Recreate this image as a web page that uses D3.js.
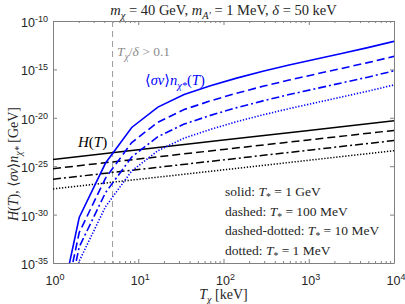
<!DOCTYPE html>
<html>
<head>
<meta charset="utf-8">
<script src="https://cdn.jsdelivr.net/npm/d3@7"></script>
<style>
body { margin: 0; background: #fff; }
</style>
</head>
<body>
<div id="chart"></div>
<script>
// temperatures (keV) where the curves were sampled
var temps = [1, 2.03, 4.12, 8.38, 17.0, 34.5, 70.2, 142.5, 289.6, 588, 1194, 2427, 4924, 10000];

// <sigma v> n_chi* (GeV), one array per T_*
var rateSolid = [1e-43, 5.0e-31, 2.0e-25, 1.0e-21, 1.26e-19, 2.51e-18, 2.0e-17, 1.26e-16, 6.3e-16, 2.82e-15, 1.12e-14, 4.47e-14, 1.78e-13, 7.94e-13];
var rateDashed = [2.5e-45, 1.41e-32, 5.6e-27, 2.8e-23, 3.5e-21, 7.1e-20, 5.6e-19, 3.5e-18, 1.78e-17, 7.9e-17, 3.2e-16, 1.26e-15, 5.0e-15, 2.24e-14];
var rateDashDot = [7.9e-47, 4.5e-34, 1.78e-28, 8.9e-25, 1.12e-22, 2.24e-21, 1.78e-20, 1.12e-19, 5.6e-19, 2.5e-18, 1.0e-17, 4.0e-17, 1.58e-16, 7.1e-16];
var rateDotted = [3.2e-48, 1.58e-35, 6.3e-30, 3.2e-26, 4.0e-24, 7.9e-23, 6.3e-22, 4.0e-21, 2.0e-20, 8.9e-20, 3.5e-19, 1.41e-18, 5.6e-18, 2.5e-17];

// Hubble rate H(T) (GeV)
var hubbleTemps = [1, 10, 100, 1000, 10000];
var hubbleSolid = [5.0e-25, 5.0e-24, 5.0e-23, 5.0e-22, 5.0e-21];
var hubbleDashed = [5.6e-26, 5.5e-25, 5.4e-24, 5.2e-23, 5.0e-22];
var hubbleDashDot = [4.5e-27, 4.5e-26, 4.5e-25, 4.5e-24, 4.5e-23];
var hubbleDotted = [4.5e-28, 4.4e-27, 4.2e-26, 4.1e-25, 4.0e-24];

var cutTemp = 5; // T_chi / delta = 0.1

var xTicks = [1, 10, 100, 1000, 10000];
var xTickExp = ['0', '1', '2', '3', '4'];
var yTicks = [1e-35, 1e-30, 1e-25, 1e-20, 1e-15, 1e-10];
var yTickExp = ['-35', '-30', '-25', '-20', '-15', '-10'];

var legendLines = [
	['solid: ', '1 GeV'],
	['dashed: ', '100 MeV'],
	['dashed-dotted: ', '10 MeV'],
	['dotted: ', '1 MeV']
];

var margins = {top: 21, right: 11, bottom: 41, left: 53};
var W = 405, H = 304;
var width = W - margins.left - margins.right;
var height = H - margins.top - margins.bottom;

var serif = '"Liberation Serif", "DejaVu Serif", serif';
var sans = '"Liberation Sans", Arial, sans-serif';

var xscale = d3.scaleLog().domain([1, 10000]).range([0, width]);
var yscale = d3.scaleLog().domain([1e-35, 1e-10]).range([height, 0]);

var svg = d3.select('#chart').append('svg')
	.attr('width', W)
	.attr('height', H);

svg.append('defs').append('clipPath').attr('id', 'clip')
	.append('rect').attr('width', width).attr('height', height);

var plot = svg.append('g')
	.attr('transform', 'translate(' + margins.left + ',' + margins.top + ')');

// writes text made of plain / italic / sub / sup pieces
function rich(txt, parts, size) {
	var base = 0;
	parts.forEach(function(p) {
		var shift = p.sub ? size * 0.3 : (p.sup ? -size * 0.4 : 0);
		var ts = txt.append('tspan').text(p.t).attr('dy', shift - base);
		base = shift;
		if (p.i) ts.attr('font-style', 'italic');
		if (p.sub || p.sup) ts.attr('font-size', size * 0.72);
	});
	return txt;
}

// minor x ticks
var minor = [];
xTicks.slice(0, -1).forEach(function(d) {
	for (var k = 2; k < 10; k++) minor.push(d * k);
});

function styleAxis(g) {
	g.selectAll('path').style('stroke', '#808080').style('stroke-width', 1);
	g.selectAll('line').style('stroke', '#808080');
}

var xb = plot.append('g').attr('transform', 'translate(0,' + height + ')')
	.call(d3.axisBottom(xscale).tickValues(xTicks).tickSize(-4).tickSizeOuter(0).tickFormat(''));
var xbm = plot.append('g').attr('transform', 'translate(0,' + height + ')')
	.call(d3.axisBottom(xscale).tickValues(minor).tickSize(-2).tickSizeOuter(0).tickFormat(''));
var xt = plot.append('g')
	.call(d3.axisTop(xscale).tickValues(xTicks).tickSize(-4).tickSizeOuter(0).tickFormat(''));
var xtm = plot.append('g')
	.call(d3.axisTop(xscale).tickValues(minor).tickSize(-2).tickSizeOuter(0).tickFormat(''));
var yl = plot.append('g')
	.call(d3.axisLeft(yscale).tickValues(yTicks).tickSize(-4).tickSizeOuter(0).tickFormat(''));
var yr = plot.append('g').attr('transform', 'translate(' + width + ',0)')
	.call(d3.axisRight(yscale).tickValues(yTicks).tickSize(-4).tickSizeOuter(0).tickFormat(''));
[xb, xbm, xt, xtm, yl, yr].forEach(styleAxis);
xbm.select('path').remove();
xtm.select('path').remove();

// tick labels
xTicks.forEach(function(d, i) {
	var t = plot.append('text')
		.attr('x', xscale(d) + 2)
		.attr('y', height + 22)
		.attr('text-anchor', 'middle')
		.attr('font-family', sans)
		.attr('font-size', 12.5)
		.attr('fill', '#262626');
	rich(t, [{t: '10'}, {t: xTickExp[i], sup: true}], 12.5);
});
yTicks.forEach(function(d, i) {
	var t = plot.append('text')
		.attr('x', -5)
		.attr('y', yscale(d) + 6)
		.attr('text-anchor', 'end')
		.attr('font-family', sans)
		.attr('font-size', 12.5)
		.attr('fill', '#262626');
	rich(t, [{t: '10'}, {t: yTickExp[i], sup: true}], 12.5);
});

// vertical T/delta line
plot.append('line')
	.attr('x1', xscale(cutTemp)).attr('x2', xscale(cutTemp))
	.attr('y1', 0).attr('y2', height)
	.style('stroke', '#999')
	.style('stroke-width', 1)
	.style('stroke-dasharray', '6,4');

var lines = plot.append('g').attr('clip-path', 'url(#clip)');

var line = d3.line()
	.x(function(d) { return xscale(d[0]); })
	.y(function(d) { return yscale(d[1]); });

var dashes = ['none', '8,4', '8,3,2,3', '1.3,1.7'];

[hubbleSolid, hubbleDashed, hubbleDashDot, hubbleDotted].forEach(function(s, i) {
	lines.append('path')
		.datum(d3.zip(hubbleTemps, s))
		.attr('d', line)
		.style('fill', 'none')
		.style('stroke', 'black')
		.style('stroke-width', 1.5)
		.style('stroke-dasharray', dashes[i]);
});

[rateSolid, rateDashed, rateDashDot, rateDotted].forEach(function(s, i) {
	lines.append('path')
		.datum(d3.zip(temps, s))
		.attr('d', line)
		.style('fill', 'none')
		.style('stroke', '#0000ff')
		.style('stroke-width', 1.6)
		.style('stroke-dasharray', dashes[i]);
});

// annotations
rich(plot.append('text').attr('x', 64).attr('y', 35)
	.attr('font-family', serif).attr('font-size', 13.5).attr('fill', '#8c8c8c'),
	[{t: 'T', i: true}, {t: 'χ', i: true, sub: true}, {t: '/'}, {t: 'δ', i: true}, {t: ' > 0.1'}], 13.5);

rich(plot.append('text').attr('x', 92).attr('y', 64)
	.attr('font-family', serif).attr('font-size', 14.5).attr('fill', '#0000ff'),
	[{t: '⟨'}, {t: 'σv', i: true}, {t: '⟩'}, {t: 'n', i: true}, {t: 'χ*', i: true, sub: true}, {t: '('}, {t: 'T', i: true}, {t: ')'}], 14.5);

rich(plot.append('text').attr('x', 25).attr('y', 126)
	.attr('font-family', serif).attr('font-size', 15).attr('fill', 'black'),
	[{t: 'H', i: true}, {t: '('}, {t: 'T', i: true}, {t: ')'}], 15);

legendLines.forEach(function(d, i) {
	rich(plot.append('text').attr('x', 172).attr('y', 175 + i * 19.5)
		.attr('font-family', serif).attr('font-size', 13.5).attr('fill', '#262626'),
		[{t: d[0]}, {t: 'T', i: true}, {t: '*', sub: true}, {t: ' = ' + d[1]}], 13.5);
});

// title and axis labels
rich(svg.append('text').attr('x', margins.left + width / 2).attr('y', 15)
	.attr('text-anchor', 'middle')
	.attr('font-family', serif).attr('font-size', 14.5).attr('fill', '#262626'),
	[{t: 'm', i: true}, {t: 'χ', i: true, sub: true}, {t: ' = 40 GeV, '},
	 {t: 'm', i: true}, {t: 'A′', i: true, sub: true}, {t: ' = 1 MeV, '},
	 {t: 'δ', i: true}, {t: ' = 50 keV'}], 14.5);

rich(svg.append('text').attr('x', margins.left + width / 2).attr('y', 299)
	.attr('text-anchor', 'middle')
	.attr('font-family', serif).attr('font-size', 14).attr('fill', '#262626'),
	[{t: 'T', i: true}, {t: 'χ', i: true, sub: true}, {t: ' [keV]'}], 14);

rich(svg.append('text')
	.attr('transform', 'translate(18,' + (margins.top + height / 2 + 22) + ') rotate(-90)')
	.attr('text-anchor', 'middle')
	.attr('font-family', serif).attr('font-size', 14).attr('fill', '#262626'),
	[{t: 'H', i: true}, {t: '('}, {t: 'T', i: true}, {t: '), ⟨'}, {t: 'σv', i: true}, {t: '⟩'},
	 {t: 'n', i: true}, {t: 'χ*', i: true, sub: true}, {t: ' [GeV]'}], 14);
</script>
</body>
</html>
